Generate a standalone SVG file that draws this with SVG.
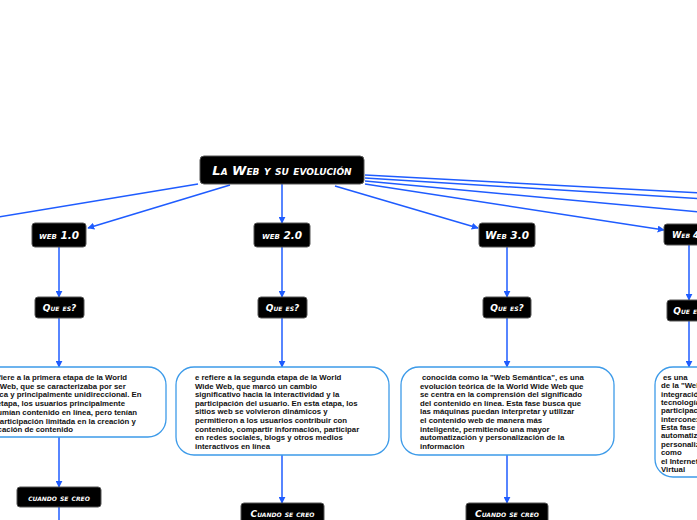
<svg xmlns="http://www.w3.org/2000/svg" width="697" height="520" viewBox="0 0 697 520">
<defs>
<marker id="ah" viewBox="0 0 10 10" refX="9" refY="5" markerWidth="7" markerHeight="7" markerUnits="userSpaceOnUse" orient="auto">
<path d="M0,0 L10,5 L0,10 z" fill="#1f5cff"/>
</marker>
<style>
.lbl rect{fill:#000;stroke:#555;stroke-width:1}
.lbl text{fill:#fff;font-family:"DejaVu Sans",sans-serif;font-weight:bold;font-style:italic;font-variant:small-caps;font-size:10.5px;text-anchor:middle}
.box rect{fill:#fff;stroke:#3d9be9;stroke-width:1.3}
.box text{fill:#111;font-family:"Liberation Sans",Arial,sans-serif;font-weight:bold;font-size:7.8px}
.con line{stroke:#1f5cff;stroke-width:1.5;fill:none}
.con .a{marker-end:url(#ah)}
</style>
</defs>
<rect width="697" height="520" fill="#fff"/>
<g class="con">
<line x1="198" y1="184" x2="-20" y2="220"/>
<line class="a" x1="230" y1="185" x2="88" y2="228"/>
<line class="a" x1="282" y1="184" x2="282" y2="223"/>
<line class="a" x1="335" y1="186" x2="478" y2="228"/>
<line class="a" x1="365" y1="184" x2="664" y2="230"/>
<line x1="365" y1="175" x2="720" y2="194"/>
<line x1="365" y1="178" x2="720" y2="200"/>
<line x1="365" y1="181" x2="720" y2="214"/>
<line class="a" x1="59" y1="247" x2="59" y2="297"/>
<line class="a" x1="282" y1="247" x2="282" y2="297"/>
<line class="a" x1="507" y1="247" x2="507" y2="297"/>
<line class="a" x1="689" y1="244" x2="689" y2="300"/>
<line class="a" x1="59" y1="318" x2="59" y2="367"/>
<line class="a" x1="282" y1="318" x2="282" y2="367"/>
<line class="a" x1="507" y1="318" x2="507" y2="367"/>
<line class="a" x1="689" y1="321" x2="689" y2="367"/>
<line class="a" x1="59" y1="437" x2="59" y2="487"/>
<line class="a" x1="282" y1="455" x2="282" y2="503"/>
<line class="a" x1="507" y1="455" x2="507" y2="503"/>
<line x1="59" y1="507" x2="59" y2="525"/>
</g>
<g id="root" class="lbl"><rect x="200" y="156" width="164" height="28" rx="4"/><text x="282" y="175" style="font-size:13px">La Web y su evolución</text></g>
<g id="web1" class="lbl"><rect x="32" y="223" width="54" height="24" rx="3"/><text x="59" y="239">web 1.0</text></g>
<g id="web2" class="lbl"><rect x="254" y="223" width="56" height="24" rx="3"/><text x="282" y="239">web 2.0</text></g>
<g id="web3" class="lbl"><rect x="479" y="223" width="56" height="24" rx="3"/><text x="507" y="239">Web 3.0</text></g>
<g id="web4" class="lbl"><rect x="664" y="224" width="52" height="21" rx="3"/><text x="690" y="237.5" style="font-size:8.5px">Web 4.0</text></g>
<g id="que1" class="lbl"><rect x="35" y="297" width="49" height="21" rx="3"/><text x="59.5" y="310.5" style="font-size:9px">Que es?</text></g>
<g id="que2" class="lbl"><rect x="258" y="297" width="49" height="21" rx="3"/><text x="282.5" y="310.5" style="font-size:9px">Que es?</text></g>
<g id="que3" class="lbl"><rect x="483" y="297" width="48" height="21" rx="3"/><text x="507" y="310.5" style="font-size:9px">Que es?</text></g>
<g id="que4" class="lbl"><rect x="667" y="300" width="46" height="21" rx="3"/><text x="690" y="313.5" style="font-size:9px">Que es?</text></g>
<g id="desc1" class="box"><rect x="-45" y="367" width="211" height="70" rx="18"/>
<text x="-21" y="380"><tspan x="-21">Se refiere a la primera etapa de la World</tspan><tspan x="-21" dy="8.7">Wide Web, que se caracterizaba por ser</tspan><tspan x="-21" dy="8.7">estática y principalmente unidireccional. En</tspan><tspan x="-21" dy="8.7">esta etapa, los usuarios principalmente</tspan><tspan x="-21" dy="8.7">consumían contenido en línea, pero tenían</tspan><tspan x="-21" dy="8.7">una participación limitada en la creación y</tspan><tspan x="-21" dy="8.7">publicación de contenido</tspan></text></g>
<g id="desc2" class="box"><rect x="176" y="367" width="213" height="88" rx="18"/>
<text x="195" y="380"><tspan x="195">e refiere a la segunda etapa de la World</tspan><tspan x="195" dy="8.6">Wide Web, que marcó un cambio</tspan><tspan x="195" dy="8.6">significativo hacia la interactividad y la</tspan><tspan x="195" dy="8.6">participación del usuario. En esta etapa, los</tspan><tspan x="195" dy="8.6">sitios web se volvieron dinámicos y</tspan><tspan x="195" dy="8.6">permitieron a los usuarios contribuir con</tspan><tspan x="195" dy="8.6">contenido, compartir información, participar</tspan><tspan x="195" dy="8.6">en redes sociales, blogs y otros medios</tspan><tspan x="195" dy="8.6">interactivos en línea</tspan></text></g>
<g id="desc3" class="box"><rect x="401" y="367" width="213" height="88" rx="18"/>
<text x="420" y="380"><tspan x="422">conocida como la "Web Semántica", es una</tspan><tspan x="420" dy="8.6">evolución teórica de la World Wide Web que</tspan><tspan x="420" dy="8.6">se centra en la comprensión del significado</tspan><tspan x="420" dy="8.6">del contenido en línea. Esta fase busca que</tspan><tspan x="420" dy="8.6">las máquinas puedan interpretar y utilizar</tspan><tspan x="420" dy="8.6">el contenido web de manera más</tspan><tspan x="420" dy="8.6">inteligente, permitiendo una mayor</tspan><tspan x="420" dy="8.6">automatización y personalización de la</tspan><tspan x="420" dy="8.6">información</tspan></text></g>
<g id="desc4" class="box"><rect x="655" y="367" width="68" height="110" rx="18"/>
<text x="661" y="380"><tspan x="663">es una</tspan><tspan x="661" dy="8.35">de la "Web</tspan><tspan x="661" dy="8.35">integración</tspan><tspan x="661" dy="8.35">tecnologías</tspan><tspan x="661" dy="8.35">participación</tspan><tspan x="661" dy="8.35">interconexión</tspan><tspan x="661" dy="8.35">Esta fase</tspan><tspan x="661" dy="8.35">automatización</tspan><tspan x="661" dy="8.35">personalización</tspan><tspan x="661" dy="8.35">como</tspan><tspan x="661" dy="8.35">el Internet</tspan><tspan x="661" dy="8.35">Virtual</tspan></text></g>
<g id="cuando1" class="lbl"><rect x="17" y="487" width="84" height="20" rx="3"/><text x="59" y="500.5" style="font-size:9px">cuando se creo</text></g>
<g id="cuando2" class="lbl"><rect x="241" y="503" width="83" height="22" rx="3"/><text x="282.5" y="516.5" style="font-size:9px">Cuando se creo</text></g>
<g id="cuando3" class="lbl"><rect x="466" y="503" width="82" height="22" rx="3"/><text x="507" y="516.5" style="font-size:9px">Cuando se creo</text></g>
</svg>
